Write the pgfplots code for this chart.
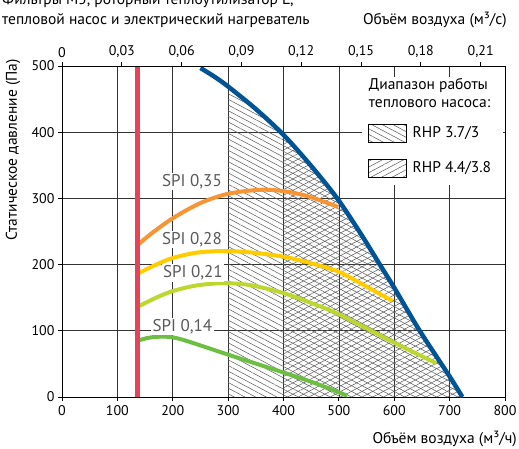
\documentclass[border=0pt]{standalone}
\usepackage{fontspec}
\setmainfont{PT Sans}
\usepackage{pgfplots}
\pgfplotsset{compat=1.18}
\usetikzlibrary{patterns.meta}
\definecolor{cred}{RGB}{232,65,90}
\definecolor{cblue}{RGB}{0,84,150}
\definecolor{corange}{RGB}{247,148,51}
\definecolor{cyellow}{RGB}{255,204,0}
\definecolor{clime}{RGB}{190,214,48}
\definecolor{cgreen}{RGB}{110,190,68}
\definecolor{cgray}{RGB}{88,89,91}
\tikzset{
  hatchA/.style={pattern={Lines[angle=-28,distance=5pt,line width=0.55pt]},pattern color=black!62},
  hatchB/.style={pattern={Lines[angle=28,distance=5pt,line width=0.55pt]},pattern color=black!62},
}
\begin{document}
\begin{tikzpicture}
\path[use as bounding box, clip] (-62pt,-51pt) rectangle (457pt,397pt);
\begin{axis}[
  scale only axis, width=443pt, height=331pt,
  xmin=0, xmax=800, ymin=0, ymax=500,
  xtick={0,100,...,800}, ytick={0,100,...,500},
  xtick pos=bottom, ytick pos=left,
  tick align=outside, major tick length=4pt,
  grid=major, grid style={draw=black!80, line width=0.7pt},
  axis line style={line width=0.8pt},
  tick style={black, line width=0.8pt},
  /pgf/number format/assume math mode=true,
  ticklabel style={font=\fontsize{14}{16}\selectfont},
  xticklabel style={yshift=-1pt},
  clip=true,
]
% heat pump operating ranges
\addplot[draw=none, hatchA] coordinates {(300,469)(350,435)(400,396)(450,349)(497,300)(540,246)(574,200)(600,165)(646,100)(700,31)(723,0)} \closedcycle;
\addplot[draw=none, hatchB] coordinates {(400,396)(450,349)(497,300)(540,246)(574,200)(600,165)(646,100)(700,31)(723,0)} \closedcycle;
% SPI curves
\addplot[corange, line width=4pt, smooth] coordinates {(136,229)(160,246)(200,270)(250,293)(300,307)(357,313)(400,311)(445,303)(499,287)};
\addplot[cyellow, line width=4pt, smooth] coordinates {(136,186)(170,200)(200,210)(243,218)(290,220.5)(340,218.5)(400,212)(450,202)(500,189)(556,164)(597,145)};
\addplot[clime, line width=4pt, smooth] coordinates {(136,136)(170,150)(200,160)(243,168.5)(291,172)(340,169)(400,157)(450,142)(500,125)(600,82)(676,51)};
\addplot[cgreen, line width=4pt, smooth] coordinates {(136,85)(160,90)(190,91)(220,86)(300,64)(400,37)(460,20)(515,2)};
% limits
\addplot[cblue, line width=4.5pt, smooth] coordinates {(250,497)(275,484)(300,469)(350,435)(400,396)(450,349)(497,300)(540,246)(574,200)(600,165)(646,100)(700,31)(723,0)};
\addplot[cred, line width=5pt] coordinates {(136,0)(136,498)};
% SPI labels
\begin{scope}[every node/.style={fill=white, inner sep=1.5pt, text=cgray, font=\fontsize{17}{19}\selectfont}]
\node at (axis cs:234.7,325.5) {SPI 0,35};
\node at (axis cs:234.7,238) {SPI 0,28};
\node at (axis cs:236.5,187) {SPI 0,21};
\node at (axis cs:217.5,106.5) {SPI 0,14};
\end{scope}
% legend
\fill[white] (axis cs:541.5,483) rectangle (axis cs:796,320);
\node[anchor=base west, font=\fontsize{15.5}{18}\selectfont, align=left, inner sep=0pt] at (axis cs:554,464) {Диапазон работы};
\node[anchor=base west, font=\fontsize{15.5}{18}\selectfont, align=left, inner sep=0pt] at (axis cs:554,438) {теплового насоса:};
\draw[line width=0.6pt, hatchA] (axis cs:554,412) rectangle (axis cs:621,385);
\draw[line width=0.6pt, hatchB] (axis cs:554,359.5) rectangle (axis cs:621,332);
\node[anchor=west, font=\fontsize{15.5}{18}\selectfont, inner sep=0pt] at (axis cs:633,399) {RHP 3.7/3};
\node[anchor=west, font=\fontsize{15.5}{18}\selectfont, inner sep=0pt] at (axis cs:633,346) {RHP 4.4/3.8};
\end{axis}
\begin{axis}[
  scale only axis, width=443pt, height=331pt,
  xmin=0, xmax=0.222222, ymin=0, ymax=500,
  axis x line*=top, hide y axis,
  xtick={0,0.03,0.06,0.09,0.12,0.15,0.18,0.21},
  xticklabels={0,{0,03},{0,06},{0,09},{0,12},{0,15},{0,18},{0,21}},
  tick align=outside, major tick length=4pt,
  axis line style={line width=0.8pt},
  tick style={black, line width=0.8pt},
  ticklabel style={font=\fontsize{14}{16}\selectfont},
  xticklabel style={yshift=1pt},
]
\end{axis}
\node[anchor=base west, font=\fontsize{15.5}{18}\selectfont, inner sep=0pt] at (-60pt,392pt) {Фильтры M5, роторный теплоутилизатор L,};
\node[anchor=base west, font=\fontsize{15.5}{18}\selectfont, inner sep=0pt] at (-60pt,372pt) {тепловой насос и электрический нагреватель};
\node[anchor=base east, font=\fontsize{15.5}{18}\selectfont, inner sep=0pt] at (445pt,372pt) {Объём воздуха (м³/с)};
\node[anchor=base east, font=\fontsize{15.5}{18}\selectfont, inner sep=0pt] at (455pt,-46pt) {Объём воздуха (м³/ч)};
\node[rotate=90, anchor=base east, font=\fontsize{15.5}{18}\selectfont, inner sep=0pt] at (-45pt,338pt) {Статическое давление (Па)};
\end{tikzpicture}
\end{document}
